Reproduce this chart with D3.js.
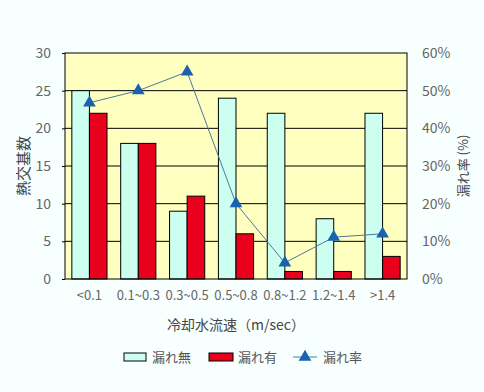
<!DOCTYPE html>
<html>
<head>
<meta charset="utf-8">
<script src="https://cdn.jsdelivr.net/npm/d3@7"></script>
<style>
body { margin: 0; background: #f8ffff; }
text { font-family: "Noto Sans CJK JP", "Noto Sans", sans-serif; fill: #555; }
</style>
</head>
<body>
<div id="chart"></div>
<script>
var w = 484, h = 392;
var margin = {top: 53, right: 77, bottom: 113, left: 65};

var categories = ["<0.1", "0.1~0.3", "0.3~0.5", "0.5~0.8", "0.8~1.2", "1.2~1.4", ">1.4"];
var noLeak = [25, 18, 9, 24, 22, 8, 22];
var leak = [22, 18, 11, 6, 1, 1, 3];
var leakRate = [46.8, 50, 55, 20, 4.3, 11.1, 12];
var leftTicks = [0, 5, 10, 15, 20, 25, 30];
var rightTicks = [0, 10, 20, 30, 40, 50, 60];

var svg = d3.select("#chart").append("svg")
    .attr("width", w)
    .attr("height", h);

var xScale = d3.scaleBand()
    .domain(categories)
    .range([margin.left, w - margin.right]);

var yScale = d3.scaleLinear()
    .domain([0, 30])
    .range([h - margin.bottom, margin.top]);

var y2Scale = d3.scaleLinear()
    .domain([0, 60])
    .range([h - margin.bottom, margin.top]);

// plot area
svg.append("rect")
    .attr("x", margin.left)
    .attr("y", margin.top)
    .attr("width", w - margin.left - margin.right)
    .attr("height", h - margin.top - margin.bottom)
    .attr("fill", "#ffffc0");

// gridlines
svg.selectAll(".grid")
    .data(leftTicks.slice(1, -1))
    .enter()
    .append("line")
    .attr("x1", margin.left)
    .attr("x2", w - margin.right)
    .attr("y1", function(d) { return yScale(d); })
    .attr("y2", function(d) { return yScale(d); })
    .attr("stroke", "#000")
    .attr("stroke-width", 1);

var barW = xScale.bandwidth() * 0.36;
var gap = (xScale.bandwidth() - 2 * barW) / 2;

svg.selectAll(".bar1")
    .data(noLeak)
    .enter()
    .append("rect")
    .attr("x", function(d, i) { return xScale(categories[i]) + gap; })
    .attr("y", function(d) { return yScale(d); })
    .attr("width", barW)
    .attr("height", function(d) { return yScale(0) - yScale(d); })
    .attr("fill", "#ccfff0")
    .attr("stroke", "#000")
    .attr("stroke-width", 1);

svg.selectAll(".bar2")
    .data(leak)
    .enter()
    .append("rect")
    .attr("x", function(d, i) { return xScale(categories[i]) + gap + barW; })
    .attr("y", function(d) { return yScale(d); })
    .attr("width", barW)
    .attr("height", function(d) { return yScale(0) - yScale(d); })
    .attr("fill", "#e8001c")
    .attr("stroke", "#000")
    .attr("stroke-width", 1);

// frame
svg.append("rect")
    .attr("x", margin.left)
    .attr("y", margin.top)
    .attr("width", w - margin.left - margin.right)
    .attr("height", h - margin.top - margin.bottom)
    .attr("fill", "none")
    .attr("stroke", "#000")
    .attr("stroke-width", 1);

// rate line
var line = d3.line()
    .x(function(d, i) { return xScale(categories[i]) + xScale.bandwidth() / 2; })
    .y(function(d) { return y2Scale(d); });

svg.append("path")
    .datum(leakRate)
    .attr("d", line)
    .attr("fill", "none")
    .attr("stroke", "#4a7a9a")
    .attr("stroke-width", 1);

var tri = d3.symbol().type(d3.symbolTriangle).size(70);
svg.selectAll(".marker")
    .data(leakRate)
    .enter()
    .append("path")
    .attr("d", tri)
    .attr("transform", function(d, i) {
        return "translate(" + (xScale(categories[i]) + xScale.bandwidth() / 2) + "," + y2Scale(d) + ")";
    })
    .attr("fill", "#1a62b0");

// axes
var leftAxis = svg.append("g")
    .attr("transform", "translate(" + margin.left + ",0)")
    .call(d3.axisLeft(yScale).tickValues(leftTicks).tickSize(3).tickPadding(11));
leftAxis.select(".domain").remove();
leftAxis.selectAll("line").attr("stroke", "#000");
leftAxis.selectAll("text").attr("font-size", 14).style("fill", "#666");

var rightAxis = svg.append("g")
    .attr("transform", "translate(" + (w - margin.right) + ",0)")
    .call(d3.axisRight(y2Scale).tickValues(rightTicks).tickSize(0).tickPadding(15)
        .tickFormat(function(d) { return d + "%"; }));
rightAxis.select(".domain").remove();
rightAxis.selectAll("text").attr("font-size", 14).style("fill", "#666");

var bottomAxis = svg.append("g")
    .attr("transform", "translate(0," + (h - margin.bottom) + ")")
    .call(d3.axisBottom(xScale).tickSize(0).tickPadding(12));
bottomAxis.select(".domain").remove();
bottomAxis.selectAll("text").attr("font-size", 13).style("fill", "#666");

// axis titles
svg.append("text")
    .attr("transform", "translate(22," + ((margin.top + h - margin.bottom) / 2) + ") rotate(-90)")
    .attr("text-anchor", "middle")
    .attr("dominant-baseline", "central")
    .attr("font-size", 15)
    .style("fill", "#444")
    .text("熱交基数");

svg.append("text")
    .attr("transform", "translate(462," + ((margin.top + h - margin.bottom) / 2) + ") rotate(-90)")
    .attr("text-anchor", "middle")
    .attr("dominant-baseline", "central")
    .attr("font-size", 13)
    .style("fill", "#444")
    .text("漏れ率 (%)");

svg.append("text")
    .attr("x", (margin.left + w - margin.right) / 2)
    .attr("y", 330)
    .attr("text-anchor", "middle")
    .attr("font-size", 14)
    .style("fill", "#444")
    .text("冷却水流速（m/sec）");

// legend
var legend = svg.append("g").attr("transform", "translate(0,357)");
legend.append("rect").attr("x", 124).attr("y", -4).attr("width", 22).attr("height", 8)
    .attr("fill", "#ccfff0").attr("stroke", "#000");
legend.append("text").attr("x", 152).attr("y", 5).attr("font-size", 13).text("漏れ無");
legend.append("rect").attr("x", 209).attr("y", -4).attr("width", 24).attr("height", 8)
    .attr("fill", "#e8001c").attr("stroke", "#000");
legend.append("text").attr("x", 238).attr("y", 5).attr("font-size", 13).text("漏れ有");
legend.append("line").attr("x1", 293).attr("x2", 317).attr("y1", 0).attr("y2", 0)
    .attr("stroke", "#4a7a9a");
legend.append("path").attr("d", tri).attr("transform", "translate(305,0)").attr("fill", "#1a62b0");
legend.append("text").attr("x", 323).attr("y", 5).attr("font-size", 13).text("漏れ率");
</script>
</body>
</html>
